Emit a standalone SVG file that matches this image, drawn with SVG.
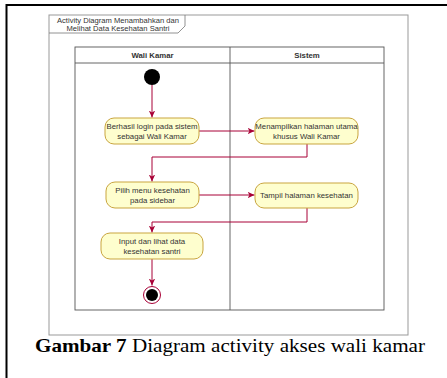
<svg xmlns="http://www.w3.org/2000/svg" width="447" height="378" viewBox="0 0 447 378">
  <style>
    .act rect { fill: #FEFECE; stroke: #C9A53F; stroke-width: 1; }
    .act text, .lbl { font-family: "Liberation Sans", Arial, sans-serif; font-size: 7.8px; fill: #333; text-anchor: middle; }
    .edge { fill: none; stroke: #A80036; stroke-width: 1; }
    .lane { fill: none; stroke: #555; stroke-width: 0.9; }
    .cap { font-family: "Liberation Serif", "Times New Roman", serif; font-size: 19px; fill: #000; }
  </style>
  <defs>
    <marker id="arr" markerWidth="8" markerHeight="8" refX="7" refY="4" orient="auto" markerUnits="userSpaceOnUse">
      <path d="M0,0.8 L7,4 L0,7.2 L2,4 Z" fill="#A80036"/>
    </marker>
  </defs>

  <rect width="447" height="378" fill="#fff"/>
  <!-- page border (left and top) -->
  <path d="M6.5,378 V5 H447" fill="none" stroke="#000" stroke-width="2"/>

  <!-- diagram frame with title tab -->
  <g id="frame">
    <rect x="49" y="15" width="359" height="320" fill="#fff" stroke="#999" stroke-width="1"/>
    <path d="M49,33 H178 L185,26 V15" fill="none" stroke="#777" stroke-width="0.8"/>
    <text class="lbl" x="118" y="22.5" style="font-size:7.6px">Activity Diagram Menambahkan dan</text>
    <text class="lbl" x="118" y="30.5" style="font-size:7.6px">Melihat Data Kesehatan Santri</text>
  </g>

  <!-- swimlanes -->
  <g id="lanes">
    <rect class="lane" x="75" y="47" width="309" height="263"/>
    <line class="lane" x1="75" y1="63" x2="384" y2="63"/>
    <line class="lane" x1="230" y1="47" x2="230" y2="310"/>
    <text class="lbl" x="152.5" y="58" style="font-weight:bold">Wali Kamar</text>
    <text class="lbl" x="307" y="58" style="font-weight:bold">Sistem</text>
  </g>

  <!-- connectors -->
  <g id="connectors">
    <path class="edge" d="M152,85 V117.5" marker-end="url(#arr)"/>
    <path class="edge" d="M199,131 H254.5" marker-end="url(#arr)"/>
    <path class="edge" d="M307,144 V157 H152 V181.5" marker-end="url(#arr)"/>
    <path class="edge" d="M199,195 H254.5" marker-end="url(#arr)"/>
    <path class="edge" d="M307,208 V222 H152 V232.5" marker-end="url(#arr)"/>
    <path class="edge" d="M152,259 V285.5" marker-end="url(#arr)"/>
  </g>

  <g id="start">
    <circle cx="152" cy="77" r="8" fill="#000"/>
  </g>

  <g id="n1" class="act">
    <rect x="105" y="118" width="94" height="26" rx="9"/>
    <text x="152" y="129">Berhasil login pada sistem</text>
    <text x="152" y="138.5">sebagai Wali Kamar</text>
  </g>

  <g id="n2" class="act">
    <rect x="255" y="118" width="103" height="26" rx="9"/>
    <text x="306.5" y="129">Menampilkan halaman utama</text>
    <text x="306.5" y="138.5">khusus Wali Kamar</text>
  </g>

  <g id="n3" class="act">
    <rect x="106" y="182" width="93" height="26" rx="9"/>
    <text x="152.5" y="193">Pilih menu kesehatan</text>
    <text x="152.5" y="202.5">pada sidebar</text>
  </g>

  <g id="n4" class="act">
    <rect x="255" y="183" width="103" height="25" rx="9"/>
    <text x="306.5" y="198">Tampil halaman kesehatan</text>
  </g>

  <g id="n5" class="act">
    <rect x="101" y="233" width="102" height="26" rx="9"/>
    <text x="152" y="244">Input dan lihat data</text>
    <text x="152" y="253.5">kesehatan santri</text>
  </g>

  <g id="end">
    <circle cx="152" cy="295" r="8.5" fill="#fff" stroke="#A80036" stroke-width="1"/>
    <circle cx="152" cy="295" r="6" fill="#000"/>
  </g>

  <text class="cap" x="35" y="352" textLength="390" lengthAdjust="spacingAndGlyphs"><tspan font-weight="bold">Gambar 7</tspan> Diagram activity akses wali kamar</text>
</svg>
